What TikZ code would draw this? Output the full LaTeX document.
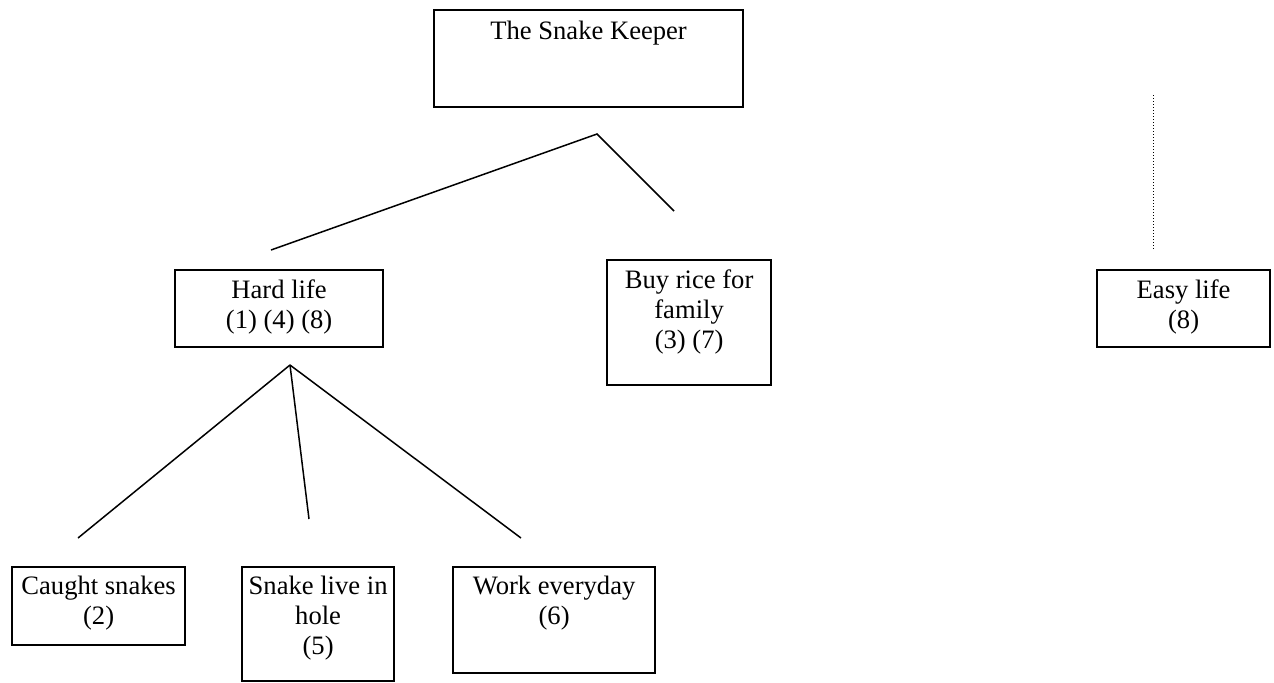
\documentclass[tikz,border=0pt]{standalone}
\usepackage{fontspec}
\setmainfont{Liberation Serif}
\newcommand\boxfont{\fontsize{13.3}{15}\selectfont}
\tikzset{
  tbox/.style={draw,line width=1.1pt,anchor=north west,inner sep=0pt},
  lbl/.style={anchor=north,align=center,inner sep=5pt,font=\boxfont},
  link/.style={line width=0.75pt},
}
\begin{document}
\begin{tikzpicture}[x=0.5pt,y=-0.5pt]
	\useasboundingbox (0,0) rectangle (1274,682);

	\node[tbox,minimum width=154.5pt,minimum height=48.5pt,label={[lbl,inner sep=6pt]north:The Snake Keeper}] (keeper) at (433,9) {}; % title
	\node[tbox,minimum width=104pt,minimum height=38.5pt,label={[lbl]north:{Hard life\\(1) (4) (8)}}] (hard) at (174,269) {};
	\node[tbox,minimum width=82pt,minimum height=62.5pt,label={[lbl]north:{Buy rice for\\family\\(3) (7)}}] (rice) at (606,259) {};
	\node[tbox,minimum width=86.5pt,minimum height=38.5pt,label={[lbl]north:{Easy life\\(8)}}] (easy) at (1096,269) {};

	\node[tbox,minimum width=86.5pt,minimum height=39pt,label={[lbl]north:{Caught snakes\\(2)}}] (caught) at (11,566) {};
	\node[tbox,minimum width=76pt,minimum height=57pt,label={[lbl]north:{Snake live in\\hole\\(5)}}] (hole) at (241,566) {};
	\node[tbox,minimum width=101pt,minimum height=53pt,label={[lbl]north:{Work everyday\\(6)}}] (work) at (452,566) {};

	% upper fork
	\coordinate (keeperFork) at (597,134);
	\coordinate (hardEnd) at (271,250);
	\coordinate (riceEnd) at (674,211);
	\draw[link] (hardEnd)--(keeperFork)--(riceEnd);

	% lower fork
	\coordinate (hardFork) at (290,365);
	\coordinate (caughtEnd) at (78,538);
	\coordinate (holeEnd) at (309,519);
	\coordinate (workEnd) at (521,538);
	\draw[link] (hardFork)--(caughtEnd);
	\draw[link] (hardFork)--(holeEnd);
	\draw[link] (hardFork)--(workEnd);

	% dotted line over easy life
	\coordinate (easyTop) at (1153,95);
	\coordinate (easyEnd) at (1153,249);
	\draw[densely dotted,line width=0.5pt] (easyTop)--(easyEnd);
\end{tikzpicture}
\end{document}
